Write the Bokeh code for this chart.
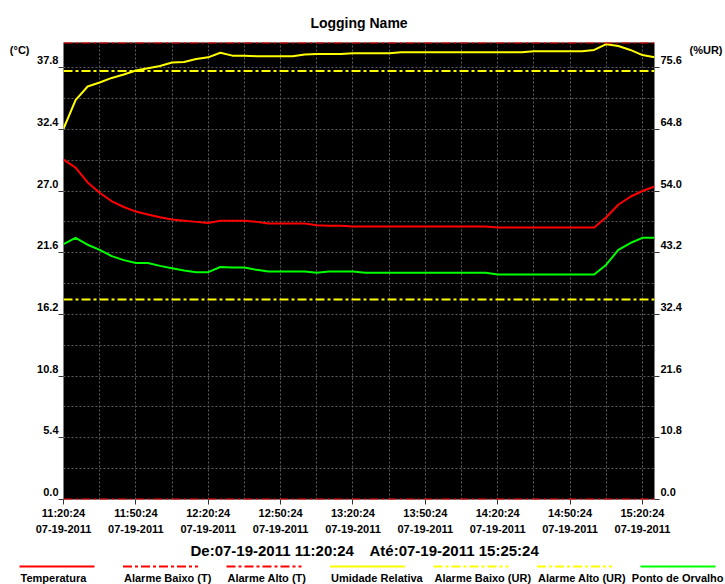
from datetime import datetime, timedelta

from bokeh.plotting import figure
from bokeh.models import Range1d, LinearAxis, FixedTicker, Grid, Span, PrintfTickFormatter
from bokeh.layouts import column
from bokeh.core.properties import value
from bokeh.embed import file_html
from bokeh.resources import INLINE

FONT = "Liberation Sans"

# ---------------- data ----------------
date_str = "07-19-2011"
start_time = "11:20:24"
sample_minutes = [0, 5, 10, 15, 20, 25, 30, 35, 40, 45,
                  50, 55, 60, 65, 70, 75, 80, 85, 90, 95,
                  100, 105, 110, 115, 120, 125, 130, 135, 140, 145,
                  150, 155, 160, 165, 170, 175, 180, 185, 190, 195,
                  200, 205, 210, 215, 220, 225, 230, 235, 240, 245]

temperatura = [29.75, 29.05, 27.75, 26.85, 26.1, 25.6, 25.2, 24.95, 24.7, 24.5,
               24.4, 24.3, 24.2, 24.4, 24.4, 24.4, 24.3, 24.15, 24.15, 24.15,
               24.15, 24.0, 23.95, 23.95, 23.9, 23.9, 23.9, 23.9, 23.9, 23.9,
               23.9, 23.9, 23.9, 23.9, 23.9, 23.9, 23.8, 23.8, 23.8, 23.8,
               23.8, 23.8, 23.8, 23.8, 23.8, 24.7, 25.8, 26.5, 27.0, 27.4]

umidade = [64.9, 69.9, 72.3, 73.0, 73.8, 74.4, 75.1, 75.5, 75.9, 76.5,
           76.6, 77.1, 77.4, 78.2, 77.7, 77.7, 77.6, 77.6, 77.6, 77.6,
           77.9, 78.0, 78.0, 78.0, 78.1, 78.1, 78.1, 78.1, 78.3, 78.3,
           78.3, 78.3, 78.3, 78.3, 78.3, 78.3, 78.3, 78.3, 78.3, 78.45,
           78.45, 78.45, 78.45, 78.45, 78.7, 79.7, 79.4, 78.7, 77.8, 77.4]

orvalho = [22.35, 22.9, 22.3, 21.85, 21.3, 20.95, 20.7, 20.7, 20.45, 20.25,
           20.05, 19.9, 19.9, 20.35, 20.3, 20.3, 20.1, 19.95, 19.95, 19.95,
           19.95, 19.85, 19.95, 19.95, 19.95, 19.85, 19.85, 19.85, 19.85, 19.85,
           19.85, 19.85, 19.85, 19.85, 19.85, 19.85, 19.7, 19.7, 19.7, 19.7,
           19.7, 19.7, 19.7, 19.7, 19.7, 20.55, 21.85, 22.45, 22.9, 22.9]

alarme_baixo_t = 0.0
alarme_alto_t = 40.0
alarme_baixo_ur = 35.0
alarme_alto_ur = 75.0

t_range = (0.0, 40.0)
ur_range = (0.0, 80.0)
left_ticks = [0.0, 5.4, 10.8, 16.2, 21.6, 27.0, 32.4, 37.8]
right_ticks = [0.0, 10.8, 21.6, 32.4, 43.2, 54.0, 64.8, 75.6]
x_tick_minutes = [0, 30, 60, 90, 120, 150, 180, 210, 240]
x_tick_times = ["11:20:24", "11:50:24", "12:20:24", "12:50:24", "13:20:24",
                "13:50:24", "14:20:24", "14:50:24", "15:20:24"]

title_text = "Logging Name"
unit_left = "(°C)"
unit_right = "(%UR)"
legend_names = ["Temperatura", "Alarme Baixo (T)", "Alarme Alto (T)", "Umidade Relativa",
                "Alarme Baixo (UR)", "Alarme Alto (UR)", "Ponto de Orvalho"]

# ---------------- styles ----------------
RED = "#ff0000"
YELLOW = "#ffff00"
GREEN = "#00ff00"
TXT = "#000000"
ALARM_DASH = "9 3 3 3"
legend_colors = [RED, RED, RED, YELLOW, YELLOW, YELLOW, GREEN]
legend_dashes = ["solid", ALARM_DASH, ALARM_DASH, "solid", ALARM_DASH, ALARM_DASH, "solid"]

W = 725
H_MAIN = 538
H_LEG = 46
B_LEFT, B_RIGHT, B_TOP, B_BOTTOM = 63, 65, 42, 39

p = figure(width=W, height=H_MAIN, output_backend="svg", toolbar_location=None,
           x_range=Range1d(sample_minutes[0], sample_minutes[-1]),
           y_range=Range1d(*t_range),
           x_axis_location=None, y_axis_location=None,
           min_border_left=B_LEFT, min_border_right=B_RIGHT,
           min_border_top=B_TOP, min_border_bottom=B_BOTTOM,
           background_fill_color="black", border_fill_color="white",
           outline_line_color=None, frame_align=False)
p.center = [r for r in p.center if not isinstance(r, Grid)]

p.title.text = title_text
p.title.align = "center"
p.title.text_font = FONT
p.title.text_font_style = "bold"
p.title.text_font_size = "14px"
p.title.text_color = TXT
p.title.standoff = 24

# labels drawn ~7.5 px above their tick
shift_px = 7.5
frame_h = H_MAIN - B_TOP - B_BOTTOM
ls = shift_px * (t_range[1] - t_range[0]) / frame_h
rs = shift_px * (ur_range[1] - ur_range[0]) / frame_h
p.extra_y_ranges = {
    "ur": Range1d(*ur_range),
    "lshift": Range1d(t_range[0] - ls, t_range[1] - ls),
    "rshift": Range1d(ur_range[0] - rs, ur_range[1] - rs),
}

# grids
grid_y = [2.7 * k for k in range(1, 15)]
grid_x = list(range(15, sample_minutes[-1], 15))
for dim, ticks in ((0, grid_x), (1, grid_y)):
    p.add_layout(Grid(dimension=dim, ticker=FixedTicker(ticks=ticks),
                      grid_line_color="#5c5c5c", grid_line_dash="2 2", grid_line_width=1), "center")

label_kw = dict(major_label_text_font=FONT, major_label_text_font_style="bold",
                major_label_text_font_size="11px", major_label_text_color=TXT)
no_ticks = dict(major_tick_out=0, major_tick_in=0, minor_tick_out=0, minor_tick_in=0,
                axis_line_color=None, major_tick_line_color=None, minor_tick_line_color=None)


def tick_axis(ticks, range_name="default"):
    return LinearAxis(y_range_name=range_name, ticker=FixedTicker(ticks=ticks),
                      major_tick_out=5, major_tick_in=0, minor_tick_out=0, minor_tick_in=0,
                      axis_line_color=None, major_tick_line_color="#333333",
                      major_label_text_font_size="0px", major_label_text_color=None,
                      major_label_standoff=0)


def label_axis(ticks, range_name, standoff=0):
    return LinearAxis(y_range_name=range_name, ticker=FixedTicker(ticks=ticks),
                      formatter=PrintfTickFormatter(format="%.1f"),
                      major_label_standoff=standoff, **no_ticks, **label_kw)


def unit_axis(text, pos, range_name, standoff):
    return LinearAxis(y_range_name=range_name, ticker=FixedTicker(ticks=[pos]),
                      major_label_overrides={pos: text},
                      major_label_standoff=standoff, **no_ticks, **label_kw)


# unit labels sit ~8 px below the top of the frame
unit_pos_left = 39.3
unit_pos_right = 78.6

p.add_layout(tick_axis(left_ticks), "left")
p.add_layout(label_axis(left_ticks, "lshift"), "left")
p.add_layout(unit_axis(unit_left, unit_pos_left, "default", 5), "left")
p.add_layout(tick_axis(right_ticks, "ur"), "right")
p.add_layout(label_axis(right_ticks, "rshift", standoff=1), "right")
p.add_layout(unit_axis(unit_right, unit_pos_right, "ur", 5), "right")

xaxis = LinearAxis(ticker=FixedTicker(ticks=x_tick_minutes),
                   major_label_overrides={m: f"{t}\n{date_str}" for m, t in zip(x_tick_minutes, x_tick_times)},
                   major_tick_out=5, major_tick_in=0, minor_tick_out=0, minor_tick_in=0,
                   axis_line_color=None, major_tick_line_color="#333333",
                   major_label_standoff=2, major_label_text_line_height=1.4, **label_kw)
p.add_layout(xaxis, "below")

# alarm lines
for loc, col, rn in ((alarme_baixo_t, RED, "default"), (alarme_alto_t, RED, "default"),
                     (alarme_baixo_ur, YELLOW, "ur"), (alarme_alto_ur, YELLOW, "ur")):
    p.add_layout(Span(location=loc, dimension="width", y_range_name=rn,
                      line_color=col, line_width=2, line_dash=ALARM_DASH))

# series
p.line(sample_minutes, umidade, line_color=YELLOW, line_width=2, y_range_name="ur")
p.line(sample_minutes, temperatura, line_color=RED, line_width=2)
p.line(sample_minutes, orvalho, line_color=GREEN, line_width=2)

# ---------------- footer: period + legend ----------------
fmt = "%m-%d-%Y %H:%M:%S"
t0 = datetime.strptime(f"{date_str} {start_time}", fmt)
t_first = t0 + timedelta(minutes=sample_minutes[0])
t_last = t0 + timedelta(minutes=sample_minutes[-1])
de_text = "De:" + t_first.strftime(fmt)
ate_text = "Até:" + t_last.strftime(fmt)

q = figure(width=W, height=H_LEG, output_backend="svg", toolbar_location=None,
           x_range=Range1d(0, W), y_range=Range1d(0, H_LEG),
           x_axis_location=None, y_axis_location=None, min_border=0,
           background_fill_color="white", border_fill_color="white",
           outline_line_color=None, frame_align=False)
q.center = [r for r in q.center if not isinstance(r, Grid)]

q.text(x=[190, 369], y=[34, 34], text=[de_text, ate_text], text_font=value(FONT),
       text_font_style="bold", text_font_size="15px", text_align="left",
       text_baseline="middle", text_color=TXT)

step = 103.5
n_items = len(legend_names)
for i, (name, col, dash) in enumerate(zip(legend_names, legend_colors, legend_dashes)):
    x0 = 19 + step * i
    q.line(x=[x0, x0 + 75], y=[18, 18], line_color=col, line_width=2, line_dash=dash)
    last = (i == n_items - 1)
    q.text(x=[W - 2 if last else x0 + 1], y=[7], text=[name], text_font=value(FONT),
           text_font_style="bold", text_font_size="11px",
           text_align="right" if last else "left",
           text_baseline="middle", text_color=TXT)

layout = column(p, q, spacing=0)
open("out.html", "w").write(file_html(layout, INLINE))
